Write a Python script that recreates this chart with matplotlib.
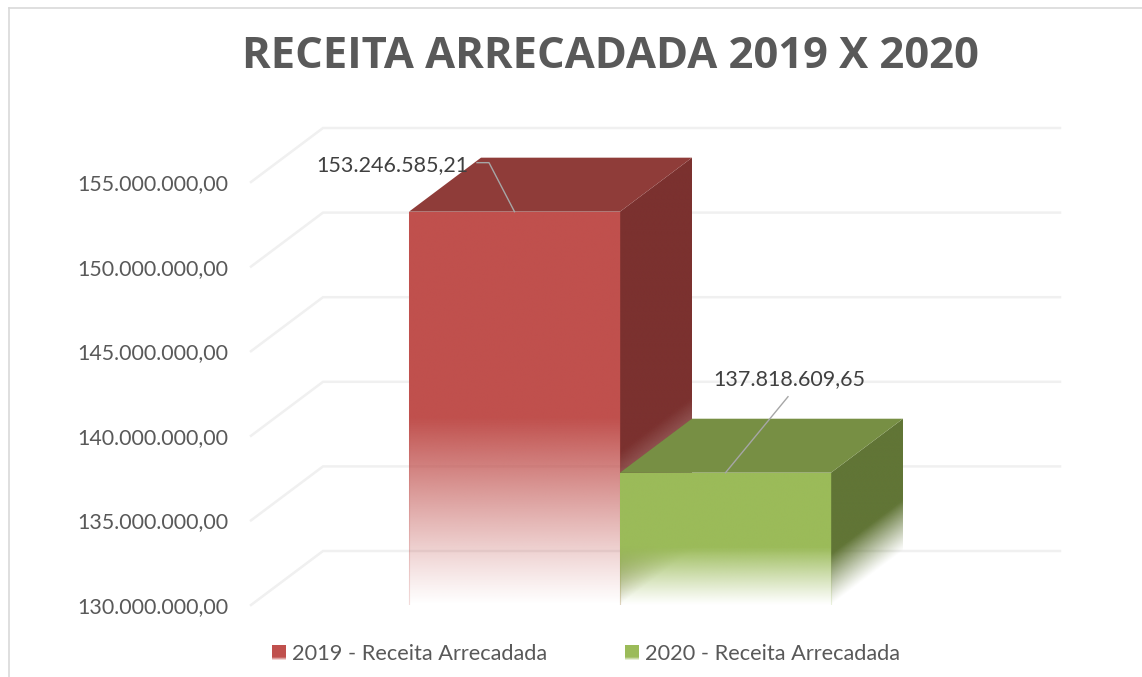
import numpy as np
import matplotlib
matplotlib.use('Agg')
import matplotlib.pyplot as plt
from matplotlib.legend_handler import HandlerPatch
from matplotlib.lines import Line2D
from matplotlib.patches import Patch, Polygon, Rectangle

plt.rcParams['font.family'] = ['Lato', 'DejaVu Sans']

title = 'RECEITA ARRECADADA 2019 X 2020'
series_names = ['2019 - Receita Arrecadada', '2020 - Receita Arrecadada']
values = [153246585.21, 137818609.65]
value_labels = ['153.246.585,21', '137.818.609,65']
ticks = [130000000, 135000000, 140000000, 145000000, 150000000, 155000000]
tick_labels = ['130.000.000,00', '135.000.000,00', '140.000.000,00',
               '145.000.000,00', '150.000.000,00', '155.000.000,00']

front_colors = ['#c0504d', '#9bbb59']
top_colors = ['#8f3c39', '#778f44']
side_colors = ['#7b312f', '#617536']
text_color = '#595959'

W, H = 1142, 677
PX_X = 1 / 211            # one bar is 211 px wide
PX_V = 5000000 / 84.6     # one tick step is 84.6 px tall
DEPTH_X = 72 * PX_X
DEPTH_V = 54 * PX_V
BASE = ticks[0]
BAR_PX = 409              # left edge of the first bar


def rgba_image(color, alpha):
    rgb = matplotlib.colors.to_rgb(color)
    img = np.zeros(alpha.shape + (4,))
    img[..., :3] = rgb
    img[..., 3] = alpha
    return img


def face(ax, corners, color, solid_to, shear=0.0, zorder=3, strength=1.0):
    # face that fades out towards the floor; solid_to is the value where the
    # fade starts, shear bends the fade along the depth of a side face
    xs = [c[0] for c in corners]
    vs = [c[1] for c in corners]
    x0, x1, v0, v1 = min(xs), max(xs), min(vs), max(vs)
    xx, vv = np.meshgrid(np.linspace(x0, x1, 300), np.linspace(v0, v1, 500))
    height = vv - BASE - shear * (xx - x0)
    alpha = strength * np.clip(height / (solid_to - BASE), 0, 1) ** 1.1
    im = ax.imshow(rgba_image(color, alpha), extent=(x0, x1, v0, v1), origin='lower',
                   aspect='auto', interpolation='bilinear', zorder=zorder)
    im.set_clip_path(Polygon(corners, closed=True, transform=ax.transData))


def side_corners(x, v):
    return [(x, BASE), (x + DEPTH_X, BASE + DEPTH_V), (x + DEPTH_X, v + DEPTH_V), (x, v)]


def draw_bar(ax, i, solid_front, solid_side, z):
    x0, x1 = i, i + 1
    v = values[i]
    slope = DEPTH_V / DEPTH_X
    # left face of the green bar only shows through the faded part of the front
    if i == 1:
        face(ax, side_corners(x0, v), side_colors[i], solid_side, slope, z, strength=0.55)
    face(ax, side_corners(x1, v), side_colors[i], solid_side, slope, z)
    face(ax, [(x0, BASE), (x1, BASE), (x1, v), (x0, v)], front_colors[i], solid_front, 0, z + 0.1)
    ax.add_patch(Polygon([(x0, v), (x1, v), (x1 + DEPTH_X, v + DEPTH_V), (x0 + DEPTH_X, v + DEPTH_V)],
                         closed=True, facecolor=top_colors[i], edgecolor='none', zorder=z + 0.2))
    for x in (x0, x1):
        ax.plot([x, x], [BASE, v], color=front_colors[i], lw=0.8, alpha=0.2, zorder=z + 0.3)


class FadedSwatch(HandlerPatch):
    def create_artists(self, legend, orig_handle, xdescent, ydescent, width, height, fontsize, trans):
        color = orig_handle.get_facecolor()
        parts = []
        for k, a in enumerate([0.25, 0.55, 0.85]):
            parts.append(Rectangle((0, k * height * 0.08), width, height * 0.08, facecolor=color,
                                   alpha=a, edgecolor='none', transform=trans))
        parts.append(Rectangle((0, height * 0.24), width, height * 0.76, facecolor=color,
                               edgecolor='none', transform=trans))
        return parts


fig = plt.figure(figsize=(W / 100, H / 100), dpi=100, facecolor='white')
left, right, top, bottom = 251, 1060, 127, 605
ax = fig.add_axes([left / W, 1 - bottom / H, (right - left) / W, (bottom - top) / H])
ax.patch.set_visible(False)
for s in ax.spines.values():
    s.set_visible(False)

xlim = ((left - BAR_PX) * PX_X, (right - BAR_PX) * PX_X)
vlim = (BASE, BASE + (bottom - top) * PX_V)

for t in ticks:
    ax.plot([xlim[0], xlim[0] + DEPTH_X, xlim[1]], [t, t + DEPTH_V, t + DEPTH_V],
            color='#f0f0f0', lw=1.8, solid_joinstyle='miter', zorder=1, clip_on=False)

draw_bar(ax, 0, 141000000, 139000000, 3)
draw_bar(ax, 1, 133400000, 133000000, 4)

# data labels with their leader lines
ax.text((392.5 - BAR_PX) * PX_X, values[0] + 47 * PX_V, value_labels[0], ha='center', va='center',
        fontsize=15.5, color='#404040', zorder=6)
ax.plot([0.5, 80 * PX_X, 68 * PX_X], [values[0], values[0] + 49 * PX_V, values[0] + 49 * PX_V],
        color='#a6a6a6', lw=1.0, zorder=6, clip_on=False)
ax.text((789 - BAR_PX) * PX_X, values[1] + 93.7 * PX_V, value_labels[1], ha='center', va='center',
        fontsize=15.5, color='#404040', zorder=6)
ax.plot([1.5, (788 - BAR_PX) * PX_X], [values[1], values[1] + 76 * PX_V],
        color='#a6a6a6', lw=1.0, zorder=6, clip_on=False)

ax.set_xlim(*xlim)
ax.set_ylim(*vlim)
ax.set_xticks([])
ax.set_yticks(ticks)
ax.set_yticklabels(tick_labels, fontsize=15.4, color=text_color)
ax.tick_params(axis='y', length=0, pad=16.5)

fig.text(610 / W, 1 - 57 / H, title, ha='center', va='center', fontsize=31.3, fontweight='bold',
         family=['Open Sans', 'DejaVu Sans'], color=text_color)

handles = [Patch(facecolor=c, label=n) for c, n in zip(front_colors, series_names)]
fig.legend(handles=handles, handler_map={Patch: FadedSwatch()}, loc='center', ncol=2,
           bbox_to_anchor=(586 / W, 1 - 654 / H), frameon=False, fontsize=15.7, labelcolor=text_color,
           handlelength=0.65, handleheight=0.65, handletextpad=0.28, columnspacing=3.55, borderpad=0)

# chart area border, cropped on the right and at the bottom
fig.add_artist(Line2D([9 / W, 9 / W], [0, 1 - 8 / H], color='#d9d9d9', lw=1.2))
fig.add_artist(Line2D([9 / W, 1], [1 - 8 / H, 1 - 8 / H], color='#d9d9d9', lw=1.2))

fig.savefig('out.png', dpi=100)
